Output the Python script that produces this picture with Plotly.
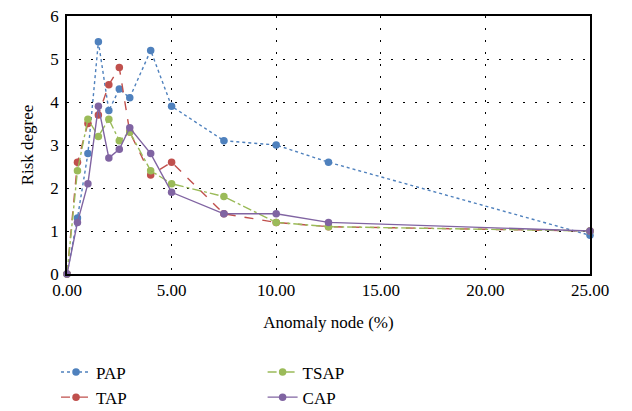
import plotly.graph_objects as go

x_vals = [0, 0.5, 1, 1.5, 2, 2.5, 3, 4, 5, 7.5, 10, 12.5, 25]
pap = [0, 1.3, 2.8, 5.4, 3.8, 4.3, 4.1, 5.2, 3.9, 3.1, 3.0, 2.6, 0.9]
tap = [0, 2.6, 3.5, 3.7, 4.4, 4.8, 3.3, 2.3, 2.6, 1.4, 1.2, 1.1, 1.0]
tsap = [0, 2.4, 3.6, 3.2, 3.6, 3.1, 3.3, 2.4, 2.1, 1.8, 1.2, 1.1, 1.0]
cap = [0, 1.2, 2.1, 3.9, 2.7, 2.9, 3.4, 2.8, 1.9, 1.4, 1.4, 1.2, 1.0]

x_ticks = [0, 5, 10, 15, 20, 25]
y_ticks = [0, 1, 2, 3, 4, 5, 6]

FONT = "Liberation Serif"

series = [
    ("PAP", pap, "#4F81BD", "dot", "legend"),
    ("TAP", tap, "#C0504D", "dash", "legend"),
    ("TSAP", tsap, "#9BBB59", "dashdot", "legend2"),
    ("CAP", cap, "#8064A2", "solid", "legend2"),
]

fig = go.Figure()
for name, vals, color, dash, leg in series:
    fig.add_trace(go.Scatter(
        x=x_vals, y=vals, name=name, mode="lines+markers",
        line=dict(color=color, width=1.4, dash=dash),
        marker=dict(color=color, size=7.5),
        legend=leg, cliponaxis=False,
    ))

axis_common = dict(
    showline=True, linecolor="black", linewidth=1.5, mirror=True,
    showgrid=True, gridcolor="black", gridwidth=1, griddash="2px,10px",
    zeroline=False, ticks="", ticklabeloverflow="allow",
    tickfont=dict(family=FONT, size=17, color="black"),
)

fig.update_layout(
    width=624, height=403,
    margin=dict(l=59, r=42, t=8, b=137, autoexpand=False),
    plot_bgcolor="white", paper_bgcolor="white",
    font=dict(family=FONT, size=17, color="black"),
    xaxis=dict(range=[0, 25], tickvals=x_ticks, tickformat=".2f",
               title=dict(text="Anomaly node (%)", font=dict(family=FONT, size=17), standoff=17),
               **axis_common),
    yaxis=dict(range=[0, 6], tickvals=y_ticks, ticklabelstandoff=3,
               title=dict(text="Risk degree", font=dict(family=FONT, size=17), standoff=12),
               **axis_common),
    legend=dict(x=-0.021, y=-0.312, xanchor="left", yanchor="top",
                font=dict(family=FONT, size=17), bgcolor="rgba(0,0,0,0)",
                tracegroupgap=0),
    legend2=dict(x=0.374, y=-0.312, xanchor="left", yanchor="top",
                 font=dict(family=FONT, size=17), bgcolor="rgba(0,0,0,0)",
                 tracegroupgap=0),
)

fig.write_html("out.html")
